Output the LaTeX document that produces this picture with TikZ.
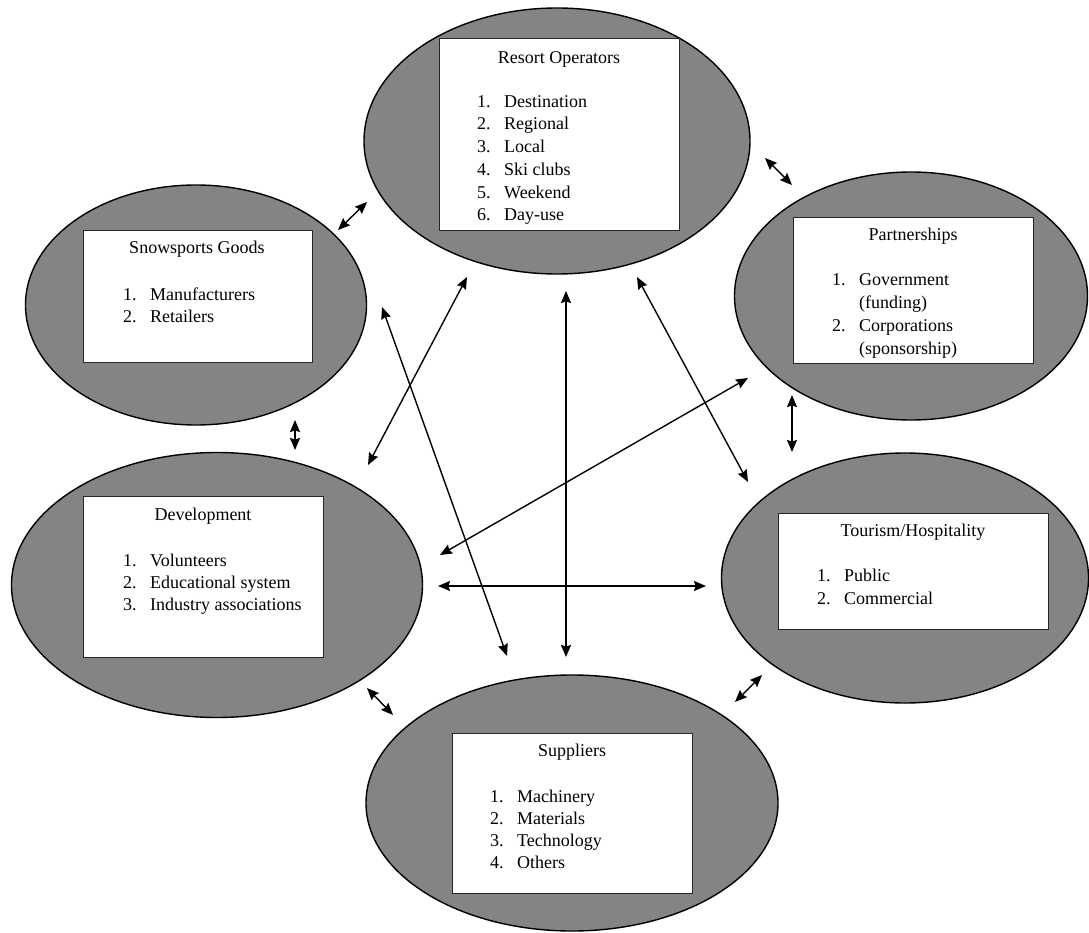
\documentclass[tikz,border=0pt]{standalone}
\usepackage{fontspec}
\setmainfont{Liberation Serif}
\usetikzlibrary{shapes.geometric,arrows.meta}
\definecolor{ovalgray}{RGB}{132,132,132}
\begin{document}
\begin{tikzpicture}[x=1pt,y=-1pt,
  oval/.style={ellipse, draw=black, line width=1.4pt, fill=ovalgray, inner sep=0pt},
  box/.style={rectangle, draw=black!85, line width=1.1pt, fill=white, inner sep=0pt, anchor=north west},
  ttl/.style={font=\fontsize{18}{22.7}\selectfont, inner sep=0pt, anchor=base},
  itm/.style={font=\fontsize{18}{22.7}\selectfont, inner sep=0pt, anchor=base west},
  link/.style={line width=1.4pt, {Stealth[length=12pt,width=10pt,inset=1.5pt]}-{Stealth[length=12pt,width=10pt,inset=1.5pt]}}]
\useasboundingbox (0,0) rectangle (1089,933);
\fill[white] (0,0) rectangle (1089,933);

% ellipses
\node[oval, minimum width=386pt, minimum height=266pt] (res) at (557,141) {};
\node[oval, minimum width=341pt, minimum height=240pt] (snow) at (196,305) {};
\node[oval, minimum width=353pt, minimum height=248pt] (part) at (911,296) {};
\node[oval, minimum width=411pt, minimum height=265pt] (dev) at (217,585) {};
\node[oval, minimum width=367pt, minimum height=250pt] (tour) at (905,578) {};
\node[oval, minimum width=412pt, minimum height=256pt] (sup) at (572,803) {};

% boxes
\node[box, minimum width=240pt, minimum height=192pt] (resbox) at (439,38) {};
\node[box, minimum width=229pt, minimum height=132pt] (snowbox) at (83,230) {};
\node[box, minimum width=240pt, minimum height=146pt] (partbox) at (793,217) {};
\node[box, minimum width=240pt, minimum height=161pt] (devbox) at (83,496) {};
\node[box, minimum width=270pt, minimum height=116pt] (tourbox) at (778,513) {};
\node[box, minimum width=240pt, minimum height=160pt] (supbox) at (452,733) {};

% titles
\node[ttl] (rest) at (559,63.3) {Resort Operators};
\node[ttl] (snowt) at (197,254) {Snowsports Goods};
\node[ttl] (partt) at (913,240.7) {Partnerships};
\node[ttl] (devt) at (203,520.7) {Development};
\node[ttl] (tourt) at (913,536.7) {Tourism/Hospitality};
\node[ttl] (supt) at (572,756.7) {Suppliers};

% lists
\foreach \t [count=\i from 1] in {Destination,Regional,Local,Ski clubs,Weekend,Day-use}
  \node[itm, name=resi\i] at (477,{107.3+22.7*(\i-1)}) {\makebox[27pt][l]{\i.}\t};
\foreach \t [count=\i from 1] in {Manufacturers,Retailers}
  \node[itm, name=snowi\i] at (123,{300+22.3*(\i-1)}) {\makebox[27pt][l]{\i.}\t};
\node[itm] (parti1) at (832,286) {\makebox[27pt][l]{1.}Government};
\node[itm] (parti2) at (832,308.7) {\makebox[27pt][l]{}(funding)};
\node[itm] (parti3) at (832,331.4) {\makebox[27pt][l]{2.}Corporations};
\node[itm] (parti4) at (832,354) {\makebox[27pt][l]{}(sponsorship)};
\foreach \t [count=\i from 1] in {Volunteers,Educational system,Industry associations}
  \node[itm, name=devi\i] at (123,{566.7+22*(\i-1)}) {\makebox[27pt][l]{\i.}\t};
\foreach \t [count=\i from 1] in {Public,Commercial}
  \node[itm, name=touri\i] at (817,{581.7+22.3*(\i-1)}) {\makebox[27pt][l]{\i.}\t};
\foreach \t [count=\i from 1] in {Machinery,Materials,Technology,Others}
  \node[itm, name=supi\i] at (490,{802.3+22.2*(\i-1)}) {\makebox[27pt][l]{\i.}\t};

% connector end points
\coordinate (a1) at (338,230); \coordinate (a2) at (367,202);
\coordinate (b1) at (765,158); \coordinate (b2) at (792,185);
\coordinate (c1) at (467,277); \coordinate (c2) at (368,465);
\coordinate (d1) at (382,307); \coordinate (d2) at (507,656);
\coordinate (e1) at (566,291); \coordinate (e2) at (566,657);
\coordinate (f1) at (637,277); \coordinate (f2) at (748,482);
\coordinate (g1) at (748,378); \coordinate (g2) at (440,555);
\coordinate (h1) at (438,586); \coordinate (h2) at (706,586);
\coordinate (i1) at (792,395); \coordinate (i2) at (792,452);
\coordinate (j1) at (295,420); \coordinate (j2) at (295,450);
\coordinate (k1) at (367,688); \coordinate (k2) at (393,715);
\coordinate (l1) at (735,702); \coordinate (l2) at (762,675);

\foreach \p in {a,b,c,d,e,f,g,h,i,j,k,l}
  \draw[link] (\p1) -- (\p2);
\end{tikzpicture}
\end{document}
